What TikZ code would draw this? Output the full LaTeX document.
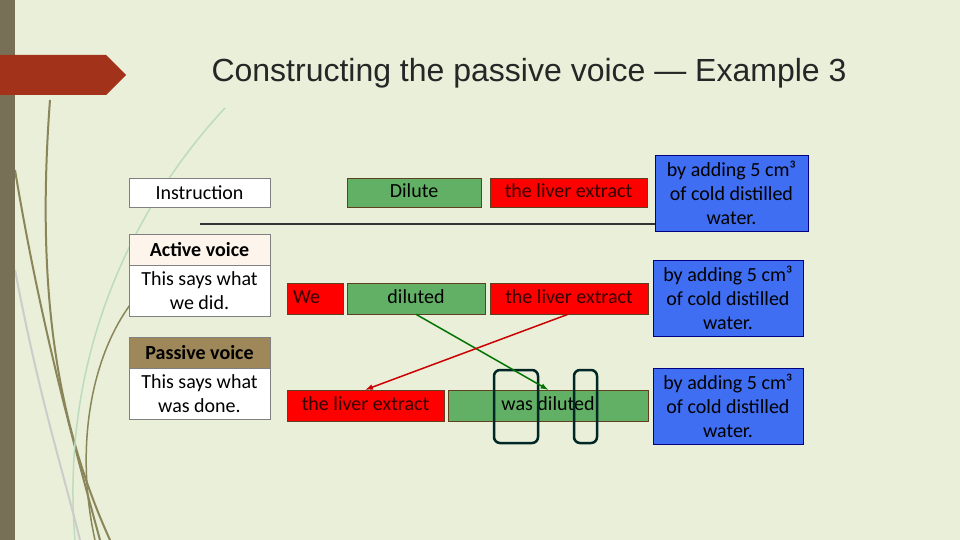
\documentclass[tikz,border=0pt]{standalone}
\usepackage{fontspec}
\setmainfont{Carlito}
\newfontfamily\titlefont{Liberation Sans}
\begin{document}
\begin{tikzpicture}[x=1pt,y=-1pt,
  box/.style={draw=#1!50!black,line width=0.6pt,minimum height=30pt,inner sep=0pt,text height=13pt,text depth=4pt,font=\fontsize{20}{22}\selectfont},
  gbox/.style={box=brown,fill=gfill},
  rbox/.style={box=brown,fill=red,text=black!80!red},
  bbox/.style={draw=blue!50!black,fill=bfill,line width=0.8pt,inner sep=0pt,align=center,font=\fontsize{20}{24}\selectfont},
  wbox/.style={draw=gray,fill=white,line width=0.6pt,inner sep=0pt,align=center,font=\fontsize{20}{24}\selectfont},
  hbox/.style={draw=gray,line width=0.6pt,minimum width=141pt,minimum height=31pt,inner sep=0pt,font=\bfseries\fontsize{20}{22}\selectfont},
  deco/.style={draw=olive!50!black!70,line width=2pt},
  ring/.style={draw=black!70!teal,line width=2.5pt,rounded corners=6pt}]
\definecolor{gfill}{HTML}{62B065}
\definecolor{bfill}{HTML}{3F6EF2}
\definecolor{bg}{HTML}{E9EFD9}
\definecolor{tab}{HTML}{A3321A}
\definecolor{side}{HTML}{787056}
\definecolor{hdr}{HTML}{9E8758}
\useasboundingbox (0,0) rectangle (960,540);
\fill[bg] (0,0) rectangle (960,540);
% decorative curves
\draw[deco] (50,100) .. controls (35,300) and (60,430) .. (110,540);
\draw[deco] (15,170) .. controls (40,320) and (70,430) .. (100,540);
\draw[deco,line width=1.5pt] (130,305) .. controls (90,360) and (75,450) .. (95,540);
\draw[draw=green!30!gray!40,line width=1.5pt] (225,108) .. controls (130,210) and (60,360) .. (75,540);
\draw[draw=gray!40,line width=2pt] (15,270) .. controls (40,400) and (60,460) .. (80,540);
\fill[side] (0,0) rectangle (15,540);
\fill[tab] (0,55) -- (106,55) -- (126,75) -- (106,95) -- (0,95) -- cycle;
\node[font=\titlefont\fontsize{32}{34}\selectfont,text=black!85] (title) at (529,73) {Constructing the passive voice — Example 3};
% left column
\node[wbox,minimum width=141pt,minimum height=29pt] (ins) at (199.5,192.5) {Instruction};
\node[hbox,fill=black!8!orange!8] (ah) at (199.5,249.5) {Active voice};
\node[wbox,minimum width=141pt,minimum height=51pt] (ab) at (199.5,290.5) {This says what\\we did.};
\node[hbox,fill=hdr] (ph) at (199.5,352.5) {Passive voice};
\node[wbox,minimum width=141pt,minimum height=51pt] (pb) at (199.5,393.5) {This says what\\was done.};
% separator
\coordinate (l1) at (200,224); \coordinate (l2) at (808,224);
\draw[black!80,line width=1.5pt] (l1) -- (l2);
% row 1
\node[gbox,minimum width=134pt,minimum height=29pt] (dil) at (414,192.5) {Dilute};
\node[rbox,minimum width=157pt,minimum height=29pt] (le1) at (568.5,192.5) {the liver extract};
\node[bbox,minimum width=153pt,minimum height=76pt] (b1) at (731.5,193) {by adding 5 cm³\\of cold distilled\\water.};
% row 2
\node[rbox,minimum width=56pt,minimum height=31pt,text width=44pt,align=left] (we) at (315,298.5) {We};
\node[gbox,minimum width=138pt,minimum height=31pt] (dild) at (416,298.5) {diluted};
\node[rbox,minimum width=158pt,minimum height=31pt] (le2) at (569,298.5) {the liver extract};
\node[bbox,minimum width=150pt,minimum height=76pt] (b2) at (728,298) {by adding 5 cm³\\of cold distilled\\water.};
% row 3
\node[rbox,minimum width=157pt,minimum height=31pt] (le3) at (365.5,405.5) {the liver extract};
\node[gbox,minimum width=200pt,minimum height=31pt] (wd) at (548,405.5) {was diluted};
\node[bbox,minimum width=150pt,minimum height=76pt] (b3) at (728,406) {by adding 5 cm³\\of cold distilled\\water.};
% rings
\node[ring,minimum width=44pt,minimum height=73pt] (r1) at (516,406.5) {};
\node[ring,minimum width=23pt,minimum height=73pt] (r2) at (585.5,406.5) {};
% arrows
\draw[green!45!black,line width=1.5pt,-latex] (dild.south) -- (wd.north);
\draw[red!80!black,line width=1.5pt,-latex] ([xshift=-1pt]le2.south) -- (le3.north);
\end{tikzpicture}
\end{document}
